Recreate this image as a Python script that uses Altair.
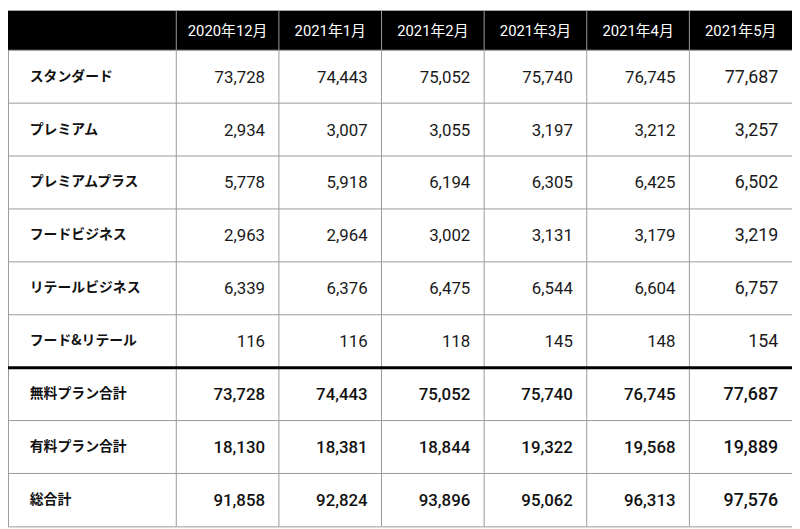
import altair as alt
import pandas as pd

months = ["2020年12月", "2021年1月", "2021年2月", "2021年3月", "2021年4月", "2021年5月"]
rows = ["スタンダード", "プレミアム", "プレミアムプラス", "フードビジネス", "リテールビジネス",
        "フード&リテール", "無料プラン合計", "有料プラン合計", "総合計"]

standard = [73728, 74443, 75052, 75740, 76745, 77687]
premium = [2934, 3007, 3055, 3197, 3212, 3257]
premium_plus = [5778, 5918, 6194, 6305, 6425, 6502]
food_business = [2963, 2964, 3002, 3131, 3179, 3219]
retail_business = [6339, 6376, 6475, 6544, 6604, 6757]
food_retail = [116, 116, 118, 145, 148, 154]
free_total = [73728, 74443, 75052, 75740, 76745, 77687]
paid_total = [18130, 18381, 18844, 19322, 19568, 19889]
grand_total = [91858, 92824, 93896, 95062, 96313, 97576]

series = [standard, premium, premium_plus, food_business, retail_business,
          food_retail, free_total, paid_total, grand_total]
total_rows = ["無料プラン合計", "有料プラン合計", "総合計"]

records = []
for r, vals in zip(rows, series):
    for m, v in zip(months, vals):
        records.append({"row": r, "month": m, "value": v, "total": r in total_rows})
df = pd.DataFrame(records)
months_df = pd.DataFrame({"month": months})
rows_df = pd.DataFrame({"row": rows})
one_df = pd.DataFrame({"a": [0]})

W, H = 792, 521
HEADER_H = 40
LABEL_W = 170
LINE = "#9a9a9a"
NUM_FONT = "Roboto, Liberation Sans, Noto Sans CJK JP"
HEAD_FONT = "Roboto, Noto Sans CJK JP"
JP_FONT = "Noto Sans CJK JP"

xscale = alt.Scale(domain=months, range=[LABEL_W, W], paddingInner=0, paddingOuter=0)
yscale = alt.Scale(domain=rows, range=[HEADER_H, H], paddingInner=0, paddingOuter=0)

header_bg = alt.Chart(one_df).mark_rect(color="black").encode(
    x=alt.value(0), x2=alt.value(W), y=alt.value(0), y2=alt.value(HEADER_H)
)

header_text = alt.Chart(months_df).mark_text(
    color="white", fontSize=15, font=HEAD_FONT, baseline="middle"
).encode(
    x=alt.X("month:N", scale=xscale, axis=None),
    y=alt.value(HEADER_H / 2 + 1),
    text="month:N",
)

vrules = alt.Chart(months_df).mark_rule(color=LINE, strokeWidth=1).encode(
    x=alt.X("month:N", scale=xscale, axis=None, bandPosition=0),
    y=alt.value(0), y2=alt.value(H),
)

hrules = alt.Chart(rows_df).mark_rule(color=LINE, strokeWidth=1).encode(
    y=alt.Y("row:N", scale=yscale, axis=None, bandPosition=0),
    x=alt.value(0), x2=alt.value(W),
)

thick = alt.Chart(rows_df).transform_filter(
    alt.datum.row == "無料プラン合計"
).mark_rule(color="black", strokeWidth=3).encode(
    y=alt.Y("row:N", scale=yscale, axis=None, bandPosition=0),
    x=alt.value(0), x2=alt.value(W),
)

labels = alt.Chart(rows_df).mark_text(
    align="left", baseline="middle", fontWeight="bold", fontSize=14, font=JP_FONT, color="#111"
).encode(
    y=alt.Y("row:N", scale=yscale, axis=None),
    x=alt.value(22),
    text="row:N",
)

size_cond = alt.condition(alt.datum.month == "2021年5月", alt.value(18), alt.value(17))

values_normal = alt.Chart(df).transform_filter(
    alt.datum.total == False
).mark_text(align="right", baseline="middle", dx=-14, dy=1, font=NUM_FONT, color="#1a1a1a").encode(
    x=alt.X("month:N", scale=xscale, axis=None, bandPosition=1),
    y=alt.Y("row:N", scale=yscale, axis=None),
    text=alt.Text("value:Q", format=","),
    size=size_cond,
)

values_total = alt.Chart(df).transform_filter(
    alt.datum.total == True
).mark_text(align="right", baseline="middle", dx=-14, dy=1, font=NUM_FONT, fontWeight=500, color="#111").encode(
    x=alt.X("month:N", scale=xscale, axis=None, bandPosition=1),
    y=alt.Y("row:N", scale=yscale, axis=None),
    text=alt.Text("value:Q", format=","),
    size=size_cond,
)

chart = alt.layer(
    header_bg, vrules, hrules, thick, header_text, labels, values_normal, values_total
).properties(
    width=W, height=H, padding=0, autosize=alt.AutoSizeParams(type="none")
).configure_view(stroke=LINE, strokeWidth=1)

chart.save("out.html", embed_options={"renderer": "svg", "actions": False})
